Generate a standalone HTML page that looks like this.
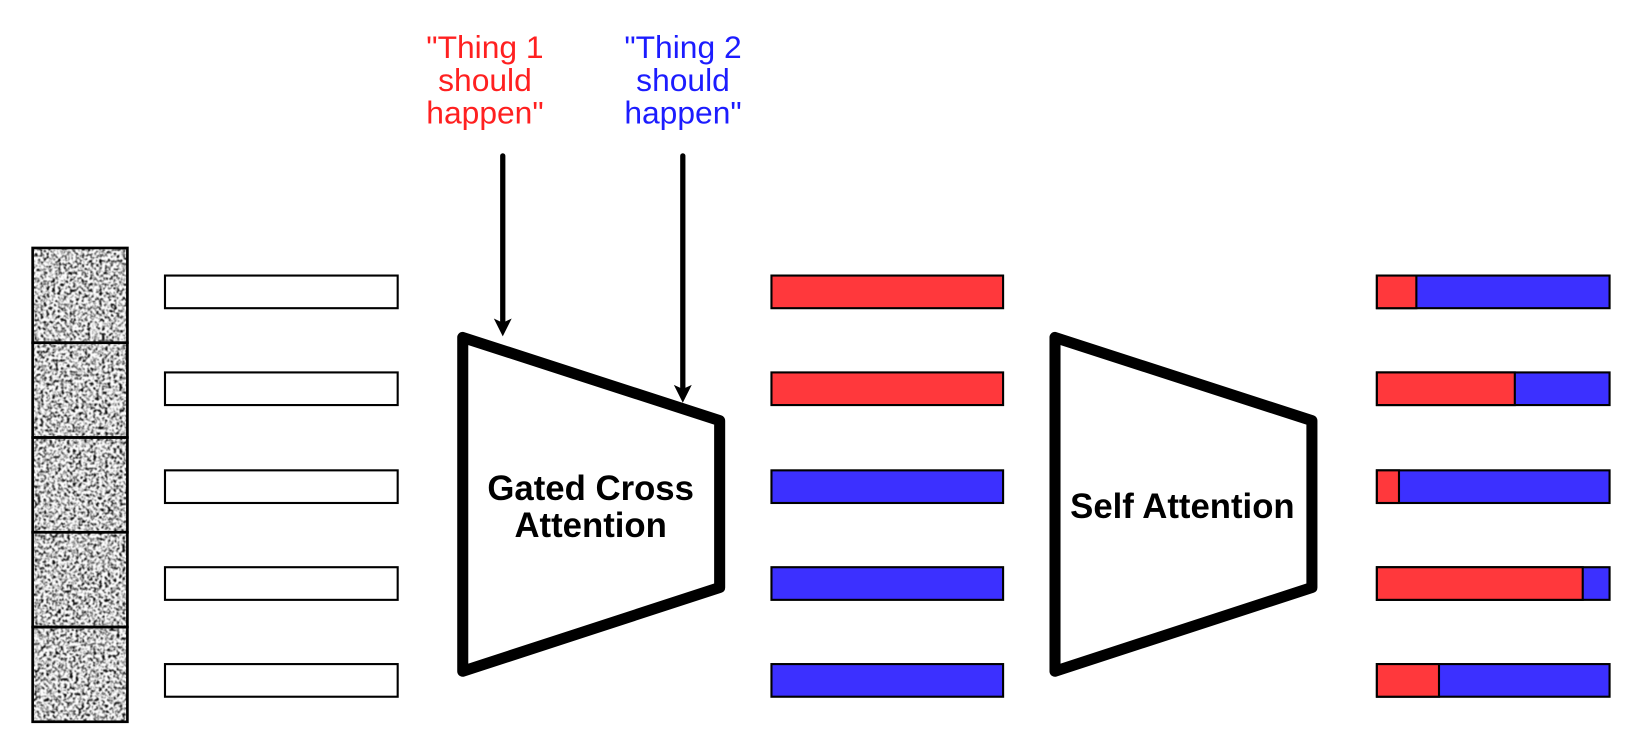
<!DOCTYPE html>
<html><head><meta charset="utf-8">
<style>
html,body{margin:0;padding:0;background:#fff;width:1652px;height:740px;overflow:hidden}
svg{display:block}
text{font-family:"Liberation Sans",Arial,sans-serif;text-anchor:middle}
.b{fill:#fff;stroke:#000;stroke-width:2}
.r{fill:#ff383c;stroke:#000;stroke-width:2}
.u{fill:#3c30ff;stroke:#000;stroke-width:2}
.n{fill:none;stroke:#000;stroke-width:2.5}
.t{fill:#fff;stroke:#000;stroke-width:10.500;stroke-linejoin:round}
</style></head><body>
<svg width="1652" height="740" viewBox="0 0 1569 702.8" preserveAspectRatio="none" xmlns="http://www.w3.org/2000/svg">
<defs>
<filter id="noise" x="0" y="0" width="100%" height="100%" color-interpolation-filters="sRGB">
<feTurbulence type="fractalNoise" baseFrequency="0.36" numOctaves="2" seed="7"/>
<feColorMatrix type="matrix" values="0 0 0 0 0  0 0 0 0 0  0 0 0 0 0  2.5 2.5 0 0 -2.3"/>
<feColorMatrix type="matrix" values="0 0 0 -1 1  0 0 0 -1 1  0 0 0 -1 1  0 0 0 0 1"/>
<feGaussianBlur stdDeviation="0.55"/>
</filter>
</defs>

<rect x="31" y="235.500" width="90" height="450" fill="#fff" filter="url(#noise)"/>
<rect class="n" x="31" y="235.500" width="90" height="90"/>
<rect class="n" x="31" y="325.500" width="90" height="90"/>
<rect class="n" x="31" y="415.500" width="90" height="90"/>
<rect class="n" x="31" y="505.500" width="90" height="90"/>
<rect class="n" x="31" y="595.500" width="90" height="90"/>

<g transform="translate(0.700,0.700)">
<rect class="b" x="156" y="261" width="221" height="31"/>
<rect class="b" x="156" y="353" width="221" height="31"/>
<rect class="b" x="156" y="446" width="221" height="31"/>
<rect class="b" x="156" y="538" width="221" height="31"/>
<rect class="b" x="156" y="630" width="221" height="31"/>

<rect class="r" x="732" y="261" width="220" height="31"/>
<rect class="r" x="732" y="353" width="220" height="31"/>
<rect class="u" x="732" y="446" width="220" height="31"/>
<rect class="u" x="732" y="538" width="220" height="31"/>
<rect class="u" x="732" y="630" width="220" height="31"/>

<rect class="u" x="1307" y="261" width="221" height="31"/>
<rect class="r" x="1307" y="261" width="37.500" height="31"/>
<rect class="u" x="1307" y="353" width="221" height="31"/>
<rect class="r" x="1307" y="353" width="131" height="31"/>
<rect class="u" x="1307" y="446" width="221" height="31"/>
<rect class="r" x="1307" y="446" width="21" height="31"/>
<rect class="u" x="1307" y="538" width="221" height="31"/>
<rect class="r" x="1307" y="538" width="195.500" height="31"/>
<rect class="u" x="1307" y="630" width="221" height="31"/>
<rect class="r" x="1307" y="630" width="59" height="31"/>
</g>

<polygon class="t" points="439.500,320.500 683.500,399.500 683.500,558 439.500,637.500"/>
<polygon class="t" points="1002,320.500 1246,399.500 1246,558 1002,637.500"/>

<text x="561" y="475" font-size="33" font-weight="bold" fill="#000">Gated Cross</text>
<text x="561" y="510" font-size="33" font-weight="bold" fill="#000">Attention</text>
<text x="1123" y="492" font-size="33" font-weight="bold" fill="#000">Self Attention</text>

<text x="460.600" y="55" font-size="30.200" fill="#ff2020">"Thing 1</text>
<text x="460.600" y="86.300" font-size="30.200" fill="#ff2020">should</text>
<text x="460.600" y="117.500" font-size="30.200" fill="#ff2020">happen"</text>
<text x="648.700" y="55" font-size="30.200" fill="#1c1cff">"Thing 2</text>
<text x="648.700" y="86.300" font-size="30.200" fill="#1c1cff">should</text>
<text x="648.700" y="117.500" font-size="30.200" fill="#1c1cff">happen"</text>

<path d="M477.500 148V310" stroke="#000" stroke-width="5" stroke-linecap="round" fill="none"/>
<polygon points="469,302.500 477.500,319.500 486,302.500 477.500,306.500" fill="#000"/>
<path d="M648.500 148V373" stroke="#000" stroke-width="5" stroke-linecap="round" fill="none"/>
<polygon points="640,365.500 648.500,382.500 657,365.500 648.500,369.500" fill="#000"/>
</svg>
</body></html>
